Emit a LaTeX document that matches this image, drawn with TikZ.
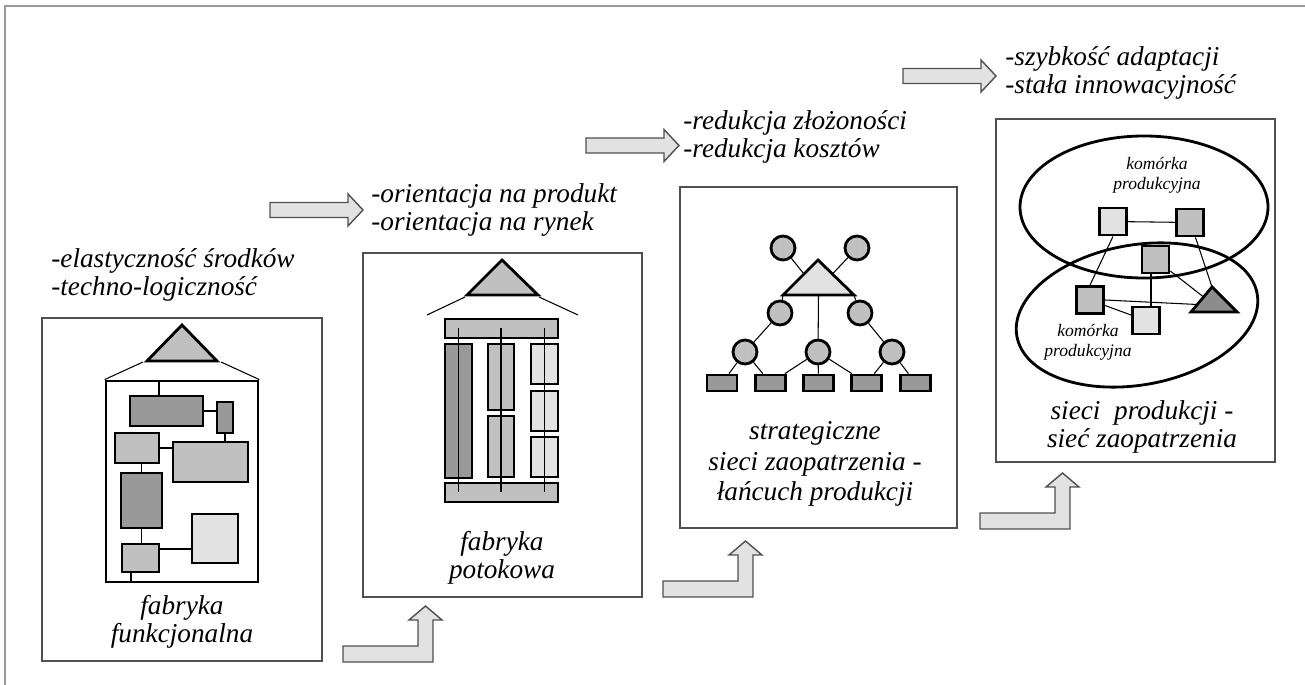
\documentclass[tikz,border=0pt]{standalone}
\usepackage{fontspec}
\setmainfont{Liberation Serif}
\usepackage{tikz}
\usetikzlibrary{positioning, shapes.geometric, calc}

\definecolor{darkfill}{HTML}{999999}
\definecolor{midfill}{HTML}{C0C0C0}
\definecolor{lightfill}{HTML}{E2E2E2}
\definecolor{trifill}{HTML}{8C8C8C}
\definecolor{boxline}{HTML}{505050}
\definecolor{frameline}{HTML}{9A9A9A}

\begin{document}
\begin{tikzpicture}[x=0.02cm, y=-0.02cm]
	
	\tikzset{
		frame/.style={draw=frameline, line width=0.85pt},
		panel/.style={draw=boxline, line width=0.8pt, inner sep=0pt},
		blk/.style={draw=black, line width=1.6pt, inner sep=0pt},
		dk/.style={blk, fill=darkfill},
		md/.style={blk, fill=midfill},
		lt/.style={blk, fill=lightfill},
		rc/.style 2 args={minimum width=#1*0.02cm, minimum height=#2*0.02cm},
		ball/.style={circle, md, minimum size=0.48cm},
		ring/.style={ellipse, draw=black, line width=1.6pt, inner sep=0pt},
		wire/.style={draw=black, line width=0.6pt},
		arrowbody/.style={fill=lightfill, draw=boxline, line width=0.8pt, line join=miter},
		txt/.style={font=\fontsize{15.5pt}{16pt}\selectfont\itshape, inner sep=0pt},
		small txt/.style={font=\fontsize{10pt}{11.3pt}\selectfont\itshape, inner sep=0pt, align=center},
		rarrow/.pic={
			\draw[arrowbody] (0,-7.5) -- (78,-7.5) -- (78,-16) -- (93,0) -- (78,16) -- (78,7.5) -- (0,7.5) -- cycle;
		},
		bentarrow/.pic={
			\draw[arrowbody] (0,0) -- (90,0) -- (90,-42) -- (99,-42) -- (82.5,-56) -- (66,-42) -- (75,-42) -- (75,-16) -- (0,-16) -- cycle;
		}
	}
	
	\useasboundingbox (0,0) rectangle (1305,685);
	\draw[frame] (1305,6) -- (5,6) -- (5,685);
	
	% texts above the panels
	\node[txt, anchor=west, align=left] (gain1) at (51,275) {-elastyczność środków\\-techno-logiczność};
	\node[txt, anchor=west, align=left] (gain2) at (371,210) {-orientacja na produkt\\-orientacja na rynek};
	\node[txt, anchor=west, align=left] (gain3) at (683,137) {-redukcja złożoności\\-redukcja kosztów};
	\node[txt, anchor=west, align=left] (gain4) at (1005,73) {-szybkość adaptacji\\-stała innowacyjność};
	
	\pic at (270,210) {rarrow};
	\pic at (586,145.5) {rarrow};
	\pic at (903,76) {rarrow};
	
	\pic at (343,662) {bentarrow};
	\pic at (663,597) {bentarrow};
	\pic at (980,529) {bentarrow};
	
	% fabryka funkcjonalna
	\node[panel, rc={280}{343}] (box1) at (182,489.5) {};
	\node[blk, rc={152}{201}] (house) at (182,481.5) {};
	\draw[md] (147,361) -- (182,325) -- (217,361) -- cycle;
	\coordinate (eave1l) at (143,362);
	\coordinate (eave1r) at (221,362);
	\draw[wire] (eave1l) -- (house.north west);
	\draw[wire] (eave1r) -- (house.north east);
	\node[dk, rc={73}{30}] (r1) at (166.5,411) {};
	\node[dk, rc={16}{31}] (r2) at (225,417.5) {};
	\node[md, rc={44}{30}] (r3) at (137,448) {};
	\node[md, rc={75}{40}] (r4) at (210.5,462) {};
	\node[dk, rc={41}{55}] (r5) at (141.5,500.5) {};
	\node[lt, rc={46}{49}] (r6) at (215,538.5) {};
	\node[md, rc={37}{28}] (r7) at (140.5,558) {};
	\draw[wire] ([xshift=-0.15cm]r1.north) -- ([xshift=-0.15cm]r1.north |- house.north);
	\draw[wire] (r1.east) -- (r1.east -| r2.west);
	\draw[wire] (r2.south) -- (r2.south |- r4.north);
	\draw[wire] (r3.east) -- (r3.east -| r4.west);
	\draw[wire] (r5.north) -- (r5.north |- r3.south);
	\draw[wire] (r5.south) -- (r5.south |- r7.north);
	\draw[wire] ([yshift=0.18cm]r7.east) -- ([yshift=0.18cm]r7.east -| r6.west);
	\draw[wire] ([xshift=-0.19cm]r7.south) -- ([xshift=-0.19cm]r7.south |- house.south);
	\node[txt, align=center] (name1) at (182,622) {fabryka\\funkcjonalna};
	
	% fabryka potokowa
	\node[panel, rc={279}{344}] (box2) at (502.5,425) {};
	\draw[md] (467,295) -- (502,260) -- (538,295) -- cycle;
	\coordinate (eave2l) at (465,297);
	\coordinate (eave2r) at (539,297);
	\coordinate (roof2l) at (427,315);
	\coordinate (roof2r) at (578,315);
	\draw[wire] (eave2l) -- (roof2l);
	\draw[wire] (eave2r) -- (roof2r);
	\node[md, rc={113}{19}] (topbar) at (501.5,328.5) {};
	\node[md, rc={113}{19}] (botbar) at (501.5,492.5) {};
	\node[dk, rc={27}{134}] (col1) at (458.5,411) {};
	\node[md, rc={26}{66}] (col2a) at (501,377) {};
	\node[md, rc={26}{61}] (col2b) at (501,446.5) {};
	\node[lt, rc={27}{40}] (col3a) at (544.5,364) {};
	\node[lt, rc={27}{40}] (col3b) at (544.5,411) {};
	\node[lt, rc={27}{40}] (col3c) at (544.5,457) {};
	\draw[wire] (col1 |- topbar.center) -- (col1 |- botbar.center);
	\draw[wire] (col2a |- topbar.center) -- (col2a |- botbar.center);
	\draw[wire] (col3a |- topbar.center) -- (col3a |- botbar.center);
	\node[txt, align=center] (name2) at (502,558) {fabryka\\potokowa};
	
	% strategiczne sieci
	\node[panel, rc={277}{341}] (box3) at (818.5,357.5) {};
	\coordinate (t3l) at (783,295);
	\coordinate (t3a) at (818,260);
	\coordinate (t3r) at (854,295);
	\draw[lt] (t3l) -- (t3a) -- (t3r) -- cycle;
	\node[ball] (c1) at (783,248) {};
	\node[ball] (c2) at (857,248) {};
	\node[ball] (c3) at (780,313) {};
	\node[ball] (c4) at (860,313) {};
	\node[ball] (c5) at (745,352) {};
	\node[ball] (c6) at (818,352) {};
	\node[ball] (c7) at (892,352) {};
	\node[dk, rc={30}{16}] (s1) at (722,383) {};
	\node[dk, rc={30}{16}] (s2) at (770.5,383) {};
	\node[dk, rc={30}{16}] (s3) at (818.5,383) {};
	\node[dk, rc={30}{16}] (s4) at (866.5,383) {};
	\node[dk, rc={30}{16}] (s5) at (915.5,383) {};
	\draw[wire] (c1) -- ($(t3l)!0.6!(t3a)$);
	\draw[wire] (c2) -- ($(t3r)!0.6!(t3a)$);
	\draw[wire] (c3) -- (t3l);
	\draw[wire] (c4) -- (t3r);
	\draw[wire] (c6) -- ($(t3l)!0.5!(t3r)$);
	\draw[wire] (c3) -- (c5);
	\draw[wire] (c4) -- (c7);
	\draw[wire] (c5) -- (s1);
	\draw[wire] (c5) -- (s2);
	\draw[wire] (c6) -- (s2);
	\draw[wire] (c6) -- (s3);
	\draw[wire] (c6) -- (s4);
	\draw[wire] (c7) -- (s4);
	\draw[wire] (c7) -- (s5);
	\node[txt, align=center, font=\fontsize{15.5pt}{17.5pt}\selectfont\itshape] (name3) at (815,464) {strategiczne\\sieci zaopatrzenia -\\łańcuch produkcji};
	
	% sieci produkcji
	\node[panel, rc={279}{343}] (box4) at (1135.5,290.5) {};
	\node[ring, rc={248}{142}] (cell1) at (1144,207) {};
	\node[ring, rc={244}{140}, rotate=10] (cell2) at (1137,315) {};
	\node[small txt] (cell1 name) at (1157,175) {komórka\\produkcyjna};
	\node[small txt] (cell2 name) at (1088,342) {komórka\\produkcyjna};
	\coordinate (t4l) at (1191,312);
	\coordinate (t4a) at (1212,287);
	\coordinate (t4r) at (1237,312);
	\draw[blk, fill=trifill] (t4l) -- (t4a) -- (t4r) -- cycle;
	\node[lt, rc={27}{27}] (q1) at (1113,221.5) {};
	\node[md, rc={27}{27}] (q2) at (1190,222.5) {};
	\node[md, rc={27}{27}] (q3) at (1155.5,259.5) {};
	\node[md, rc={27}{27}] (q4) at (1090,300) {};
	\node[lt, rc={27}{27}] (q5) at (1146,320.5) {};
	\draw[wire] (q1) -- (q2);
	\draw[wire] (q1.south) -- (q4.north);
	\draw[wire] (q2.-70) -- (t4a);
	\draw[wire] (q3) -- ($(t4l)!0.6!(t4a)$);
	\draw[wire] ([xshift=-0.09cm]q3.south) -- ([xshift=-0.09cm]q3.south |- q5.north);
	\draw[wire] (q4.east) -- ($(t4l)!0.3!(t4a)$);
	\draw[wire] (q4) -- (q5);
	\node[txt, align=center] (name4) at (1142,427) {sieci\ \ produkcji -\\sieć zaopatrzenia};
	
\end{tikzpicture}
\end{document}
